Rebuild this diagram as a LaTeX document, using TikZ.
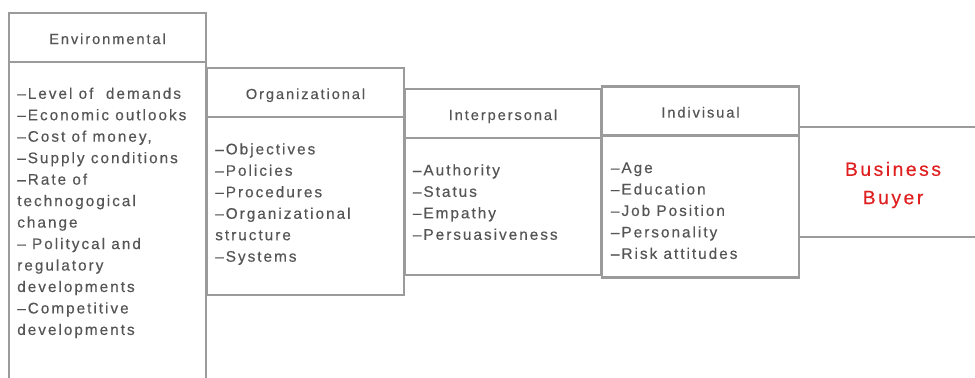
\documentclass[tikz,border=0pt]{standalone}
\usepackage{fontspec}
\setmainfont{Liberation Sans}[LetterSpace=13, FakeBold=0.4]
\usetikzlibrary{positioning}

\definecolor{boxgray}{HTML}{9B9B9B}
\definecolor{txtgray}{HTML}{555555}
\definecolor{buyerred}{HTML}{E02020}

\tikzset{
  header/.style={draw=boxgray, line width=1.9pt, outer sep=0pt, minimum width=148pt, minimum height=36.75pt,
    text height=9.8pt, text depth=0pt, text=txtgray, font=\fontsize{11}{13}\selectfont},
  panel/.style={draw=boxgray, line width=1.9pt, outer sep=0pt, minimum width=148pt},
  items/.style={anchor=north west, inner sep=0pt, align=left, text=txtgray, font=\fontsize{11.5}{16.1}\selectfont}
}

\begin{document}
\begin{tikzpicture}[x=0.75pt, y=-0.75pt]
    \clip (0,0) rectangle (975,378);

    % Factor headers
    \node[header] (env) at (107.5,37.5) {Environmental};
    \node[header] (org) at (305.5,92.5) {Organizational};
    \node[header] (inter) at (503,113.5) {Interpersonal};
    \node[header] (indiv) at (700.5,111) {Indivisual};

    % Panels under the headers
    \node[panel, minimum height=250pt, below=0pt of env] (envbody) {};
    \node[panel, minimum height=133.5pt, below=0pt of org] (orgbody) {};
    \node[panel, minimum height=102.75pt, below=0pt of inter] (interbody) {};
    \node[panel, minimum height=106.5pt, below=0pt of indiv] (indivbody) {};

    % Buyer at the end of the chain
    \node[panel, minimum width=143pt, minimum height=82.5pt, anchor=west] (buyer) at (indiv.east |- 0,182) {};
    \node[text=buyerred, align=center, font=\fontsize{14.5}{21.25}\selectfont] (buyertxt) at (893,185) {Business\\Buyer};

    % Factor lists
    \node[items] (envlist) at (17,87.4) {–Level of\ \ demands\\–Economic outlooks\\–Cost of money,\\–Supply conditions\\–Rate of\\technogogical\\change\\– Politycal and\\regulatory\\developments\\–Competitive\\developments};
    \node[items] (orglist) at (215,143) {–Objectives\\–Policies\\–Procedures\\–Organizational\\structure\\–Systems};
    \node[items] (interlist) at (412.7,164) {–Authority\\–Status\\–Empathy\\–Persuasiveness};
    \node[items] (indivlist) at (610.7,162.2) {–Age\\–Education\\–Job Position\\–Personality\\–Risk attitudes};
\end{tikzpicture}
\end{document}
